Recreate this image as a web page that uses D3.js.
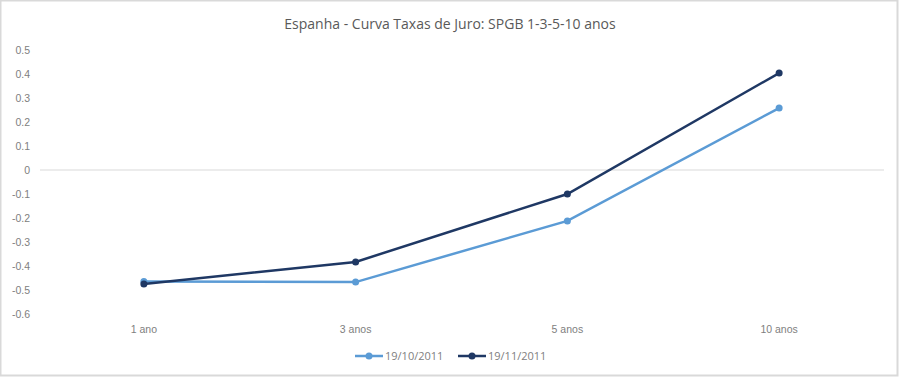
<!DOCTYPE html>
<meta charset="utf-8">
<style>
body { margin: 0; font-family: "Open Sans", Arial, sans-serif; background: #fff; }
.axis text { fill: #808080; font-size: 10.5px; }
.title { fill: #595959; font-size: 14px; text-anchor: middle; }
.legend text { fill: #808080; font-size: 11px; }
</style>
<body>
<div id="chart"></div>
<script src="https://d3js.org/d3.v7.min.js"></script>
<script>
var categories = ["1 ano", "3 anos", "5 anos", "10 anos"];
var seriesNames = ["19/10/2011", "19/11/2011"];
var seriesOct = [-0.465, -0.467, -0.212, 0.258];
var seriesNov = [-0.475, -0.383, -0.100, 0.404];
var yTicks = [0.5, 0.4, 0.3, 0.2, 0.1, 0, -0.1, -0.2, -0.3, -0.4, -0.5, -0.6];
var colors = ["#5b9bd5", "#1f3864"];

var width = 900, height = 378;
var svg = d3.select("#chart").append("svg")
    .attr("width", width)
    .attr("height", height);

// outer frame
svg.append("rect")
    .attr("x", 0.5).attr("y", 0.5)
    .attr("width", width - 3).attr("height", height - 3)
    .attr("fill", "#fff")
    .attr("stroke", "#d9d9d9")
    .attr("stroke-width", 2);

svg.append("text")
    .attr("class", "title")
    .attr("x", 450)
    .attr("y", 29)
    .text("Espanha - Curva Taxas de Juro: SPGB 1-3-5-10 anos");

var x = d3.scaleBand().domain(categories).range([38, 885]);
var y = d3.scaleLinear().domain([-0.6, 0.5]).range([314, 50]);

// zero line
svg.append("line")
    .attr("x1", 40).attr("x2", 884)
    .attr("y1", y(0)).attr("y2", y(0))
    .attr("stroke", "#d9d9d9")
    .attr("stroke-width", 1);

var yAxis = svg.append("g")
    .attr("class", "axis")
    .attr("transform", "translate(30,0)")
    .call(d3.axisLeft(y).tickValues(yTicks).tickSize(0).tickPadding(0)
      .tickFormat(function(d) { return d === 0 ? "0" : d3.format(".1f")(d).replace("−", "-"); }));
yAxis.select(".domain").remove();

var xAxis = svg.append("g")
    .attr("class", "axis")
    .attr("transform", "translate(0,327)")
    .call(d3.axisBottom(x).tickSize(0).tickPadding(0));
xAxis.select(".domain").remove();
xAxis.selectAll("text").attr("dy", "0.6em");

var line = d3.line()
    .x(function(d, i) { return x(categories[i]) + x.bandwidth() / 2; })
    .y(function(d) { return y(d); });

[seriesOct, seriesNov].forEach(function(s, k) {
  svg.append("path")
    .datum(s)
    .attr("fill", "none")
    .attr("stroke", colors[k])
    .attr("stroke-width", 2.5)
    .attr("d", line);
  svg.selectAll(".dot" + k)
    .data(s)
    .enter().append("circle")
    .attr("cx", function(d, i) { return x(categories[i]) + x.bandwidth() / 2; })
    .attr("cy", function(d) { return y(d); })
    .attr("r", 3.5)
    .attr("fill", colors[k]);
});

// legend
var legend = svg.append("g").attr("class", "legend");
var lx = [355, 458];
seriesNames.forEach(function(n, k) {
  var g = legend.append("g").attr("transform", "translate(" + lx[k] + ",356)");
  g.append("line").attr("x1", 0).attr("x2", 28).attr("y1", 0).attr("y2", 0)
    .attr("stroke", colors[k]).attr("stroke-width", 2.5);
  g.append("circle").attr("cx", 14).attr("cy", 0).attr("r", 3.5).attr("fill", colors[k]);
  g.append("text").attr("x", 30).attr("y", 0).attr("dy", "0.35em").text(n);
});
</script>
</body>
